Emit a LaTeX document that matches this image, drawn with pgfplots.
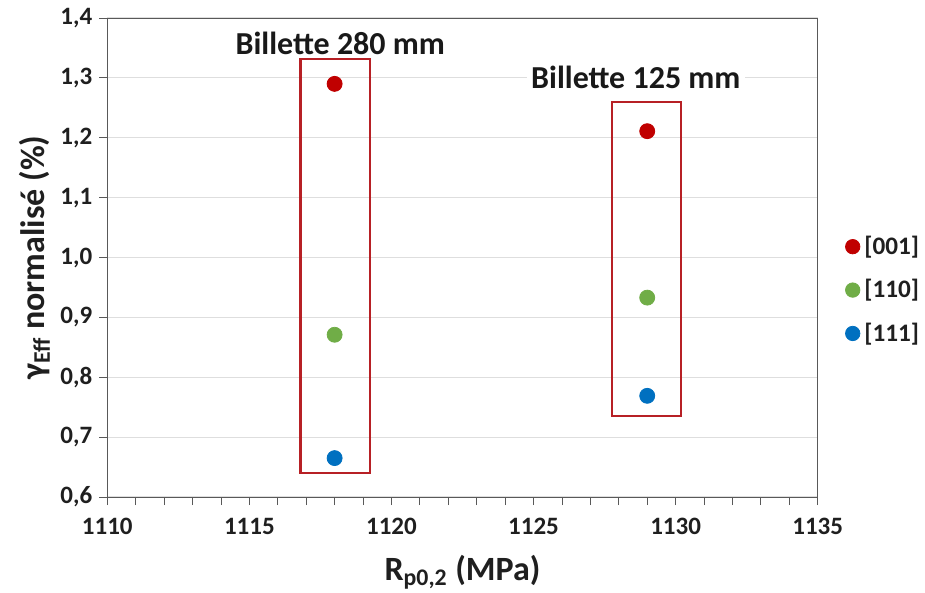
\documentclass[border=0pt]{standalone}
\usepackage{pgfplots}
\pgfplotsset{compat=1.18}
\usepackage{fontspec}
\setmainfont{Carlito}
\definecolor{cred}{HTML}{C00000}
\definecolor{cgreen}{HTML}{70AD47}
\definecolor{cblue}{HTML}{0070C0}
\definecolor{boxred}{HTML}{B72025}
\begin{document}
\begin{tikzpicture}
\begin{axis}[
  scale only axis,
  width=355.2pt, height=239.5pt,
  xmin=1110, xmax=1135, ymin=0.6, ymax=1.4,
  xtick={1110,1115,...,1135},
  ytick={0.6,0.7,...,1.4},
  minor x tick num=4,
  xtick pos=bottom, ytick pos=left,
  axis line style={draw=black!65},
  tick style={black!65, thin},
  tick align=outside,
  major tick length=4pt, minor tick length=4pt,
  ymajorgrids, grid style={black!13, line width=0.6pt},
  clip=false,
  /pgf/number format/assume math mode=true,
  tick label style={font=\bfseries\fontsize{12.5}{14}\selectfont, text=black!88},
  yticklabel style={/pgf/number format/.cd, use comma, fixed, fixed zerofill, precision=1},
  xticklabel style={yshift=-3pt, /pgf/number format/.cd, 1000 sep={}},
  xlabel={\bfseries R\textsubscript{p0,2} (MPa)},
  ylabel={\bfseries γ\textsubscript{Eff} normalisé (\%)},
  label style={font=\bfseries\fontsize{17}{19}\selectfont, text=black!88},
  xlabel style={at={(rel axis cs:0.5,-0.157)}, anchor=center},
  ylabel style={at={(rel axis cs:-0.102,0.5)}, anchor=center},
  legend style={draw=none, fill=none, at={(rel axis cs:1.038,0.432)}, anchor=west,
    font=\bfseries\fontsize{12.6}{14}\selectfont, row sep=7pt, inner sep=0pt,
    nodes={text=black!88}},
  legend cell align=left,
  legend image code/.code={\fill[#1] (0.15cm,0cm) circle (3.6pt);},
]
\addplot[only marks, mark=*, mark size=3.75pt, color=cred] coordinates {(1118,1.29) (1129,1.211)};
\addlegendentry{[001]}
\addplot[only marks, mark=*, mark size=3.75pt, color=cgreen] coordinates {(1118,0.871) (1129,0.933)};
\addlegendentry{[110]}
\addplot[only marks, mark=*, mark size=3.75pt, color=cblue] coordinates {(1118,0.665) (1129,0.769)};
\addlegendentry{[111]}
\draw[boxred, line width=1.1pt] (axis cs:1116.8,0.640) rectangle (axis cs:1119.25,1.3315);
\draw[boxred, line width=1.1pt] (axis cs:1127.77,0.735) rectangle (axis cs:1130.2,1.26);
\node[font=\bfseries\fontsize{16}{18}\selectfont, text=black!90, fill=white, inner sep=2pt] at (axis cs:1118.2,1.358) {Billette 280 mm};
\node[font=\bfseries\fontsize{16}{18}\selectfont, text=black!90, fill=white, inner sep=2pt] at (axis cs:1128.6,1.30) {Billette 125 mm};
\coordinate (bl) at (rel axis cs:-0.151,-0.1983);
\coordinate (tr) at (rel axis cs:1.151,1.0376);
\end{axis}
\pgfresetboundingbox
\path[use as bounding box] (bl) rectangle (tr);
\end{tikzpicture}
\end{document}
